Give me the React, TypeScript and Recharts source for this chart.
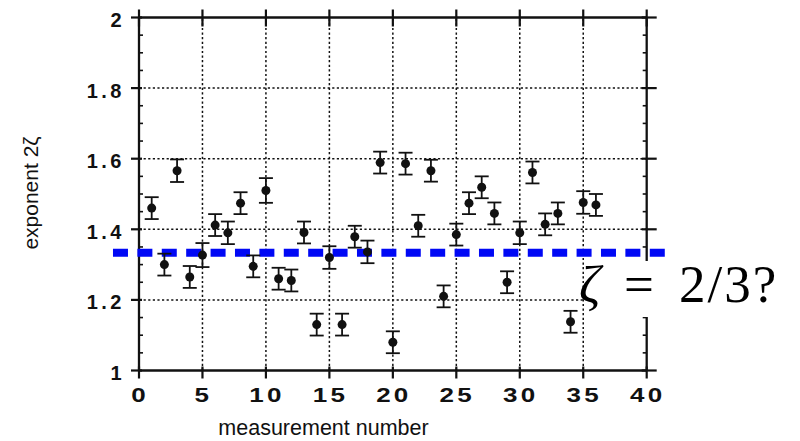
import React from 'react';
import {
  ScatterChart,
  Scatter,
  XAxis,
  YAxis,
  ErrorBar,
  ReferenceLine,
  ReferenceDot,
} from 'recharts';

// Measurement index and fitted exponent 2ζ with its uncertainty
const measurementNumbers = [
  1, 2, 3, 4, 5, 6, 7, 8, 9, 10, 11, 12, 13, 14, 15, 16, 17, 18,
  19, 20, 21, 22, 23, 24, 25, 26, 27, 28, 29, 30, 31, 32, 33, 34, 35, 36,
];
const exponentValues = [
  1.46, 1.3, 1.566, 1.265, 1.327, 1.412, 1.39, 1.474, 1.295, 1.51, 1.26, 1.255,
  1.391, 1.13, 1.32, 1.13, 1.379, 1.336, 1.589, 1.08, 1.586, 1.41, 1.566, 1.21,
  1.385, 1.474, 1.519, 1.445, 1.25, 1.39, 1.561, 1.414, 1.445, 1.138, 1.476, 1.469,
];
const exponentErrors = [
  0.031, 0.031, 0.032, 0.031, 0.034, 0.031, 0.032, 0.031, 0.031, 0.035, 0.031, 0.031,
  0.031, 0.031, 0.032, 0.031, 0.031, 0.032, 0.031, 0.031, 0.031, 0.031, 0.031, 0.031,
  0.031, 0.031, 0.031, 0.031, 0.031, 0.032, 0.031, 0.031, 0.031, 0.031, 0.032, 0.031,
];

// Kolmogorov prediction: ζ = 2/3, so 2ζ = 4/3
const predictedExponent = 4 / 3;
const predictionSpan = [-2.05, 41.7];

// Axis ticks and ranges
const xDomain = [0, 40];
const yDomain = [1, 2];
const xTicks = [0, 5, 10, 15, 20, 25, 30, 35, 40];
const xGrid = [5, 10, 15, 20, 25, 30, 35];
const yMajorTicks = [1, 1.2, 1.4, 1.6, 1.8, 2];
const yMinorTicks = [
  1.05, 1.1, 1.15, 1.25, 1.3, 1.35, 1.45, 1.5, 1.55, 1.65, 1.7, 1.75, 1.85, 1.9, 1.95,
];
const yGrid = [1.2, 1.4, 1.6, 1.8];

const data = measurementNumbers.map((n, i) => ({
  n,
  value: exponentValues[i],
  err: exponentErrors[i],
}));

const INK = '#111';
const LABEL_FONT = '"Liberation Sans", Arial, sans-serif';

const fmtY = (v: number) =>
  Math.abs(v - Math.round(v)) < 1e-9 ? String(Math.round(v)) : v.toFixed(1);

// Tick labels (the marks themselves are drawn as reference dots below)
const BottomTick = (props: any) => {
  const { x, y, payload } = props;
  return (
    <g transform={`translate(${x + 1}, ${y + 31}) scale(1.3, 1)`}>
      <text
        x={0}
        y={0}
        textAnchor="middle"
        fontFamily={LABEL_FONT}
        fontSize={20}
        fontWeight="bold"
        letterSpacing={2.5}
        fill={INK}
      >
        {payload.value}
      </text>
    </g>
  );
};

const LeftTick = (props: any) => {
  const { x, y, payload } = props;
  return (
    <text
      x={x - 14}
      y={y + 9.5}
      textAnchor="end"
      fontFamily={LABEL_FONT}
      fontSize={20}
      fontWeight="bold"
      letterSpacing={3.5}
      fill={INK}
    >
      {fmtY(payload.value)}
    </text>
  );
};

// Tick marks, positioned by the chart scales
const tickMark = (dx1: number, dx2: number, dy1: number, dy2: number, w: number) =>
  (props: any) => {
    const { cx, cy } = props;
    return (
      <line
        x1={cx + dx1}
        x2={cx + dx2}
        y1={cy + dy1}
        y2={cy + dy2}
        stroke={INK}
        strokeWidth={w}
      />
    );
  };
const bottomMajor = tickMark(0, 0, -4, 8, 2.2);
const topMajor = tickMark(0, 0, -8, 9, 2.2);
const leftMajor = tickMark(-8, 3, 0, 0, 2.2);
const leftMinor = tickMark(0, 4, 0, 0, 1.6);
const rightMajor = tickMark(-5, 10, 0, 0, 2.2);
const rightMinor = tickMark(-4, 0, 0, 0, 1.6);

const Dot = (props: any) => {
  const { cx, cy } = props;
  return <circle cx={cx} cy={cy} r={4.5} fill={INK} />;
};

const gridStyle = { stroke: '#111', strokeWidth: 1.5, strokeDasharray: '2.2 2.4' };
const frameStyle = { stroke: INK, strokeWidth: 2.3 };

export default function App() {
  return (
    <div style={{ position: 'absolute', left: 0, top: 0, width: 800, height: 441, background: '#fff' }}>
      <ScatterChart
        width={800}
        height={441}
        margin={{ top: 17.5, right: 153.3, bottom: 0, left: 0 }}
      >
        <XAxis
          xAxisId="bottom"
          dataKey="n"
          type="number"
          domain={xDomain}
          ticks={xTicks}
          interval={0}
          height={70.5}
          tickSize={0}
          tickMargin={0}
          tickLine={false}
          axisLine={false}
          tick={<BottomTick />}
          allowDataOverflow
        />
        <YAxis
          yAxisId="left"
          dataKey="value"
          type="number"
          domain={yDomain}
          ticks={yMajorTicks}
          interval={0}
          width={139}
          tickSize={0}
          tickMargin={0}
          tickLine={false}
          axisLine={false}
          tick={<LeftTick />}
          allowDataOverflow
        />

        {xGrid.map((g) => (
          <ReferenceLine key={`gx${g}`} xAxisId="bottom" yAxisId="left" x={g} {...gridStyle} />
        ))}
        {yGrid.map((g) => (
          <ReferenceLine key={`gy${g}`} xAxisId="bottom" yAxisId="left" y={g} {...gridStyle} />
        ))}

        {/* closed frame */}
        <ReferenceLine xAxisId="bottom" yAxisId="left" x={xDomain[0]} ifOverflow="visible" {...frameStyle} />
        <ReferenceLine xAxisId="bottom" yAxisId="left" x={xDomain[1]} ifOverflow="visible" {...frameStyle} />
        <ReferenceLine xAxisId="bottom" yAxisId="left" y={yDomain[0]} ifOverflow="visible" {...frameStyle} />
        <ReferenceLine xAxisId="bottom" yAxisId="left" y={yDomain[1]} ifOverflow="visible" {...frameStyle} />

        {xTicks.map((t) => (
          <ReferenceDot key={`bt${t}`} xAxisId="bottom" yAxisId="left" x={t} y={yDomain[0]} r={0}
            ifOverflow="visible" shape={bottomMajor} />
        ))}
        {xTicks.map((t) => (
          <ReferenceDot key={`tt${t}`} xAxisId="bottom" yAxisId="left" x={t} y={yDomain[1]} r={0}
            ifOverflow="visible" shape={topMajor} />
        ))}
        {yMajorTicks.map((t) => (
          <ReferenceDot key={`lt${t}`} xAxisId="bottom" yAxisId="left" x={xDomain[0]} y={t} r={0}
            ifOverflow="visible" shape={leftMajor} />
        ))}
        {yMinorTicks.map((t) => (
          <ReferenceDot key={`lm${t}`} xAxisId="bottom" yAxisId="left" x={xDomain[0]} y={t} r={0}
            ifOverflow="visible" shape={leftMinor} />
        ))}
        {yMajorTicks.map((t) => (
          <ReferenceDot key={`rt${t}`} xAxisId="bottom" yAxisId="left" x={xDomain[1]} y={t} r={0}
            ifOverflow="visible" shape={rightMajor} />
        ))}
        {yMinorTicks.map((t) => (
          <ReferenceDot key={`rm${t}`} xAxisId="bottom" yAxisId="left" x={xDomain[1]} y={t} r={0}
            ifOverflow="visible" shape={rightMinor} />
        ))}

        <ReferenceLine
          xAxisId="bottom"
          yAxisId="left"
          segment={[
            { x: predictionSpan[0], y: predictedExponent },
            { x: predictionSpan[1], y: predictedExponent },
          ]}
          ifOverflow="visible"
          stroke="#0008f5"
          strokeWidth={8}
          strokeDasharray="15 9.4"
        />

        <Scatter
          xAxisId="bottom"
          yAxisId="left"
          data={data}
          dataKey="value"
          fill={INK}
          shape={<Dot />}
          isAnimationActive={false}
        >
          <ErrorBar dataKey="err" direction="y" width={7} stroke={INK} strokeWidth={1.8} />
        </Scatter>
      </ScatterChart>

      <svg
        width={800}
        height={441}
        style={{ position: 'absolute', left: 0, top: 0, pointerEvents: 'none' }}
      >
        <text
          x={323.5}
          y={435}
          textAnchor="middle"
          fontFamily={LABEL_FONT}
          fontSize={21.5}
          fill={INK}
        >
          measurement number
        </text>
        <text
          transform="translate(38, 193) rotate(-90)"
          x={0}
          y={0}
          textAnchor="middle"
          fontFamily={LABEL_FONT}
          fontSize={21}
          fill={INK}
        >
          exponent 2ζ
        </text>

        <rect x={584} y={261} width={216} height={56} fill="#fff" />
        <text
          y={302}
          fontFamily='"Liberation Serif", "DejaVu Serif", serif'
          fontSize={53}
          fill="#000"
        >
          <tspan x={579} fontStyle="italic">ζ</tspan>
          <tspan x={624}>=</tspan>
          <tspan x={679} letterSpacing={2}>2/3?</tspan>
        </text>
      </svg>
    </div>
  );
}
